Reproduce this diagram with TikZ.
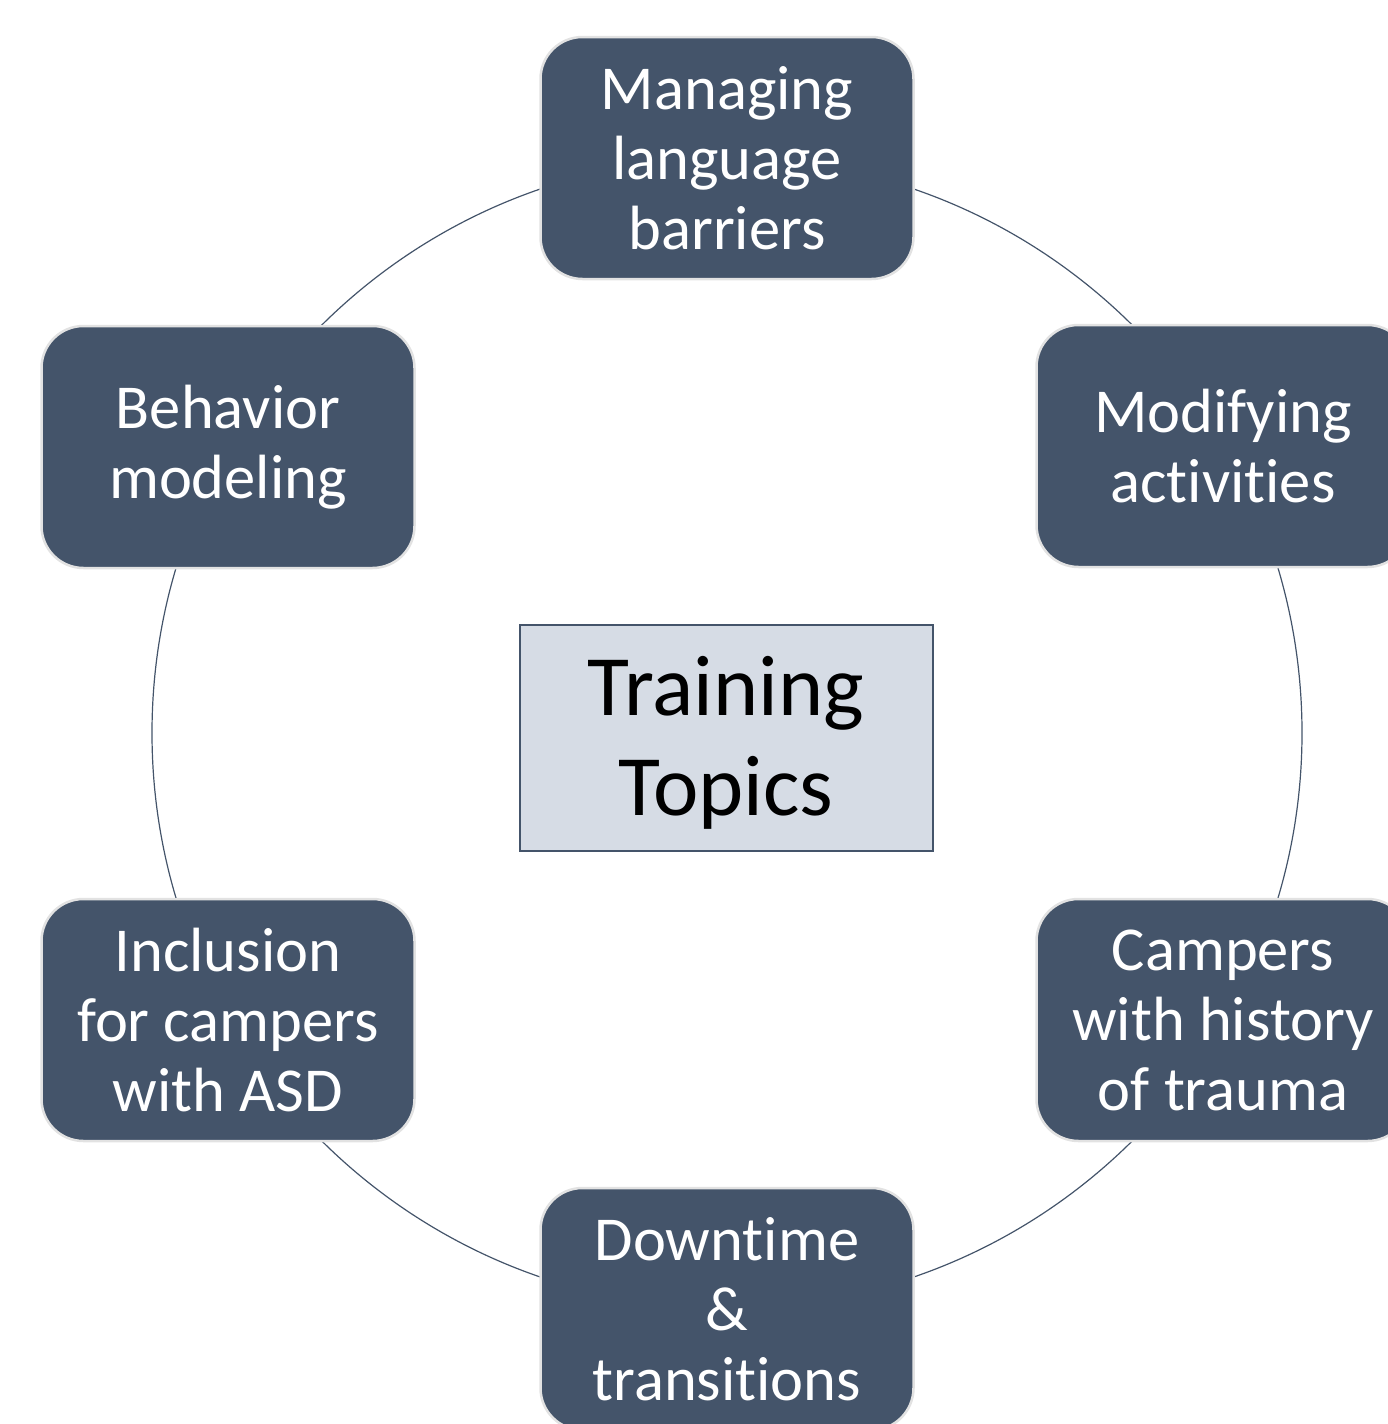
\documentclass[tikz,border=0pt]{standalone}
\usepackage{fontspec}
\setmainfont{Carlito}[Ligatures=NoCommon]
\usetikzlibrary{backgrounds}
\definecolor{slate}{HTML}{44546A}
\definecolor{pale}{HTML}{D6DCE5}
\definecolor{rim}{HTML}{E2E2E2}

\begin{document}
\begin{tikzpicture}[x=1pt,y=-1pt,
  topic/.style={draw=rim, line width=2.5pt, fill=slate, rounded corners=42pt,
    minimum width=373pt, minimum height=242pt, inner sep=0pt,
    text=white, align=center, font=\fontsize{62.5}{70}\selectfont},
  hub/.style={draw=slate, line width=2pt, fill=pale,
    minimum width=413pt, minimum height=226pt, inner sep=0pt,
    align=center, font=\fontsize{86}{100}\selectfont},
  ring/.style={draw=slate, line width=1.2pt}]
\useasboundingbox (0,0) rectangle (1387,1424);

% centre of the ring of topics
\coordinate (ringc) at (727,733);

\node[hub] (centre) at (726,738) {};
\node[align=center, font=\fontsize{86}{100}\selectfont] (centretext) at (726,743) {Training\\Topics};

\node[topic] (lang)   at (727,158)  {Managing\\language\\barriers};
\node[topic] (modify) at (1223,446) {Modifying\\activities};
\node[topic] (trauma) at (1223,1020){Campers\\with history\\of trauma};
\node[topic] (down)   at (727,1309) {Downtime\\\&\\transitions};
\node[topic] (asd)    at (228,1020) {Inclusion\\for campers\\with ASD};
\node[topic] (behave) at (228,447)  {Behavior\\modeling};

\begin{scope}[on background layer]
  \draw[ring] (ringc) circle[radius=575pt];
\end{scope}
\end{tikzpicture}
\end{document}
